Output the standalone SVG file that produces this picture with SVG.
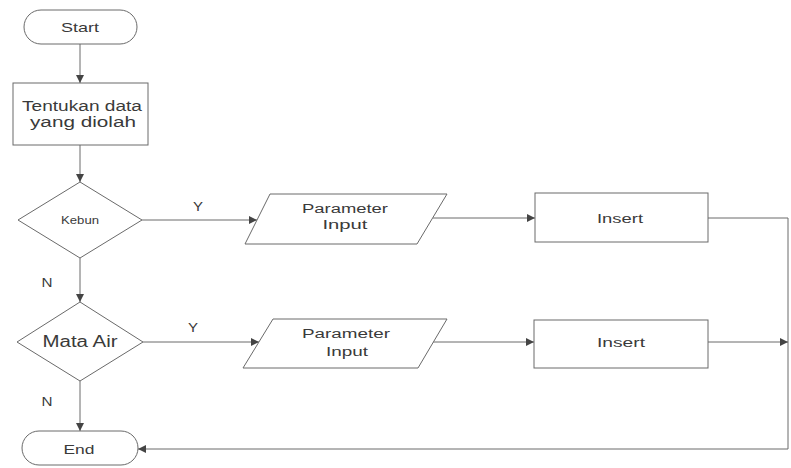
<svg xmlns="http://www.w3.org/2000/svg" width="791" height="468" viewBox="0 0 791 468">
  <style>
    .bg { fill: #ffffff; }
    .shape { fill: #ffffff; stroke: #6a6a6a; stroke-width: 1; }
    .edge { fill: none; stroke: #6a6a6a; stroke-width: 1; }
    .lbl { font-family: "Liberation Sans", Arial, sans-serif; fill: #3a3a3a; text-anchor: middle; }
  </style>
  <defs>
    <marker id="arrow" viewBox="0 0 10 10" refX="10" refY="5" markerWidth="8" markerHeight="8" markerUnits="userSpaceOnUse" orient="auto">
      <path d="M0,0 L10,5 L0,10 z" fill="#444444"/>
    </marker>
  </defs>

  <rect class="bg" x="0" y="0" width="791" height="468"/>

  <!-- connectors -->
  <g id="connectors">
    <line class="edge" x1="80" y1="44" x2="80" y2="83" marker-end="url(#arrow)"/>
    <line class="edge" x1="80" y1="145" x2="80" y2="182" marker-end="url(#arrow)"/>
    <line class="edge" x1="142" y1="220" x2="257" y2="220" marker-end="url(#arrow)"/>
    <line class="edge" x1="433" y1="218" x2="535" y2="218" marker-end="url(#arrow)"/>
    <polyline class="edge" points="708,218 788,218 788,449 138,449" marker-end="url(#arrow)"/>
    <line class="edge" x1="80" y1="258" x2="80" y2="302" marker-end="url(#arrow)"/>
    <line class="edge" x1="143" y1="342" x2="259" y2="342" marker-end="url(#arrow)"/>
    <line class="edge" x1="433" y1="342" x2="534" y2="342" marker-end="url(#arrow)"/>
    <line class="edge" x1="708" y1="342" x2="788" y2="342" marker-end="url(#arrow)"/>
    <line class="edge" x1="80" y1="381" x2="80" y2="431" marker-end="url(#arrow)"/>
    <text class="lbl" x="198" y="211" font-size="13" textLength="10" lengthAdjust="spacingAndGlyphs">Y</text>
    <text class="lbl" x="193" y="332" font-size="13" textLength="10" lengthAdjust="spacingAndGlyphs">Y</text>
    <text class="lbl" x="47" y="287" font-size="13" textLength="11" lengthAdjust="spacingAndGlyphs">N</text>
    <text class="lbl" x="47" y="406" font-size="13" textLength="11" lengthAdjust="spacingAndGlyphs">N</text>
  </g>

  <g id="start">
    <rect class="shape" x="24" y="10" width="113" height="34" rx="17" ry="17"/>
    <text class="lbl" x="80" y="32" font-size="13" textLength="38" lengthAdjust="spacingAndGlyphs">Start</text>
  </g>

  <g id="tentukan-data">
    <rect class="shape" x="13" y="83" width="135" height="62"/>
    <text class="lbl" x="82" y="111" font-size="14" textLength="120" lengthAdjust="spacingAndGlyphs">Tentukan data</text>
    <text class="lbl" x="83" y="127" font-size="14" textLength="106" lengthAdjust="spacingAndGlyphs">yang diolah</text>
  </g>

  <g id="kebun">
    <polygon class="shape" points="80,182 142,220 80,258 18,220"/>
    <text class="lbl" x="80" y="224" font-size="10" textLength="38" lengthAdjust="spacingAndGlyphs">Kebun</text>
  </g>

  <g id="parameter-input-1">
    <polygon class="shape" points="270,194 447,194 417,244 245,244"/>
    <text class="lbl" x="345" y="213" font-size="12" textLength="86" lengthAdjust="spacingAndGlyphs">Parameter</text>
    <text class="lbl" x="345" y="229" font-size="12" textLength="45" lengthAdjust="spacingAndGlyphs">Input</text>
  </g>

  <g id="insert-1">
    <rect class="shape" x="535" y="193" width="173" height="49"/>
    <text class="lbl" x="620" y="223" font-size="12" textLength="46" lengthAdjust="spacingAndGlyphs">Insert</text>
  </g>

  <g id="mata-air">
    <polygon class="shape" points="80,302 143,342 80,381 17,342"/>
    <text class="lbl" x="80" y="347" font-size="16" textLength="75" lengthAdjust="spacingAndGlyphs">Mata Air</text>
  </g>

  <g id="parameter-input-2">
    <polygon class="shape" points="273,319 447,319 418,368 243,368"/>
    <text class="lbl" x="346" y="338" font-size="12" textLength="88" lengthAdjust="spacingAndGlyphs">Parameter</text>
    <text class="lbl" x="347" y="356" font-size="12" textLength="42" lengthAdjust="spacingAndGlyphs">Input</text>
  </g>

  <g id="insert-2">
    <rect class="shape" x="534" y="320" width="174" height="48"/>
    <text class="lbl" x="621" y="347" font-size="12" textLength="48" lengthAdjust="spacingAndGlyphs">Insert</text>
  </g>

  <g id="end">
    <rect class="shape" x="22" y="431" width="116" height="34" rx="17" ry="17"/>
    <text class="lbl" x="79" y="454" font-size="13" textLength="31" lengthAdjust="spacingAndGlyphs">End</text>
  </g>
</svg>
